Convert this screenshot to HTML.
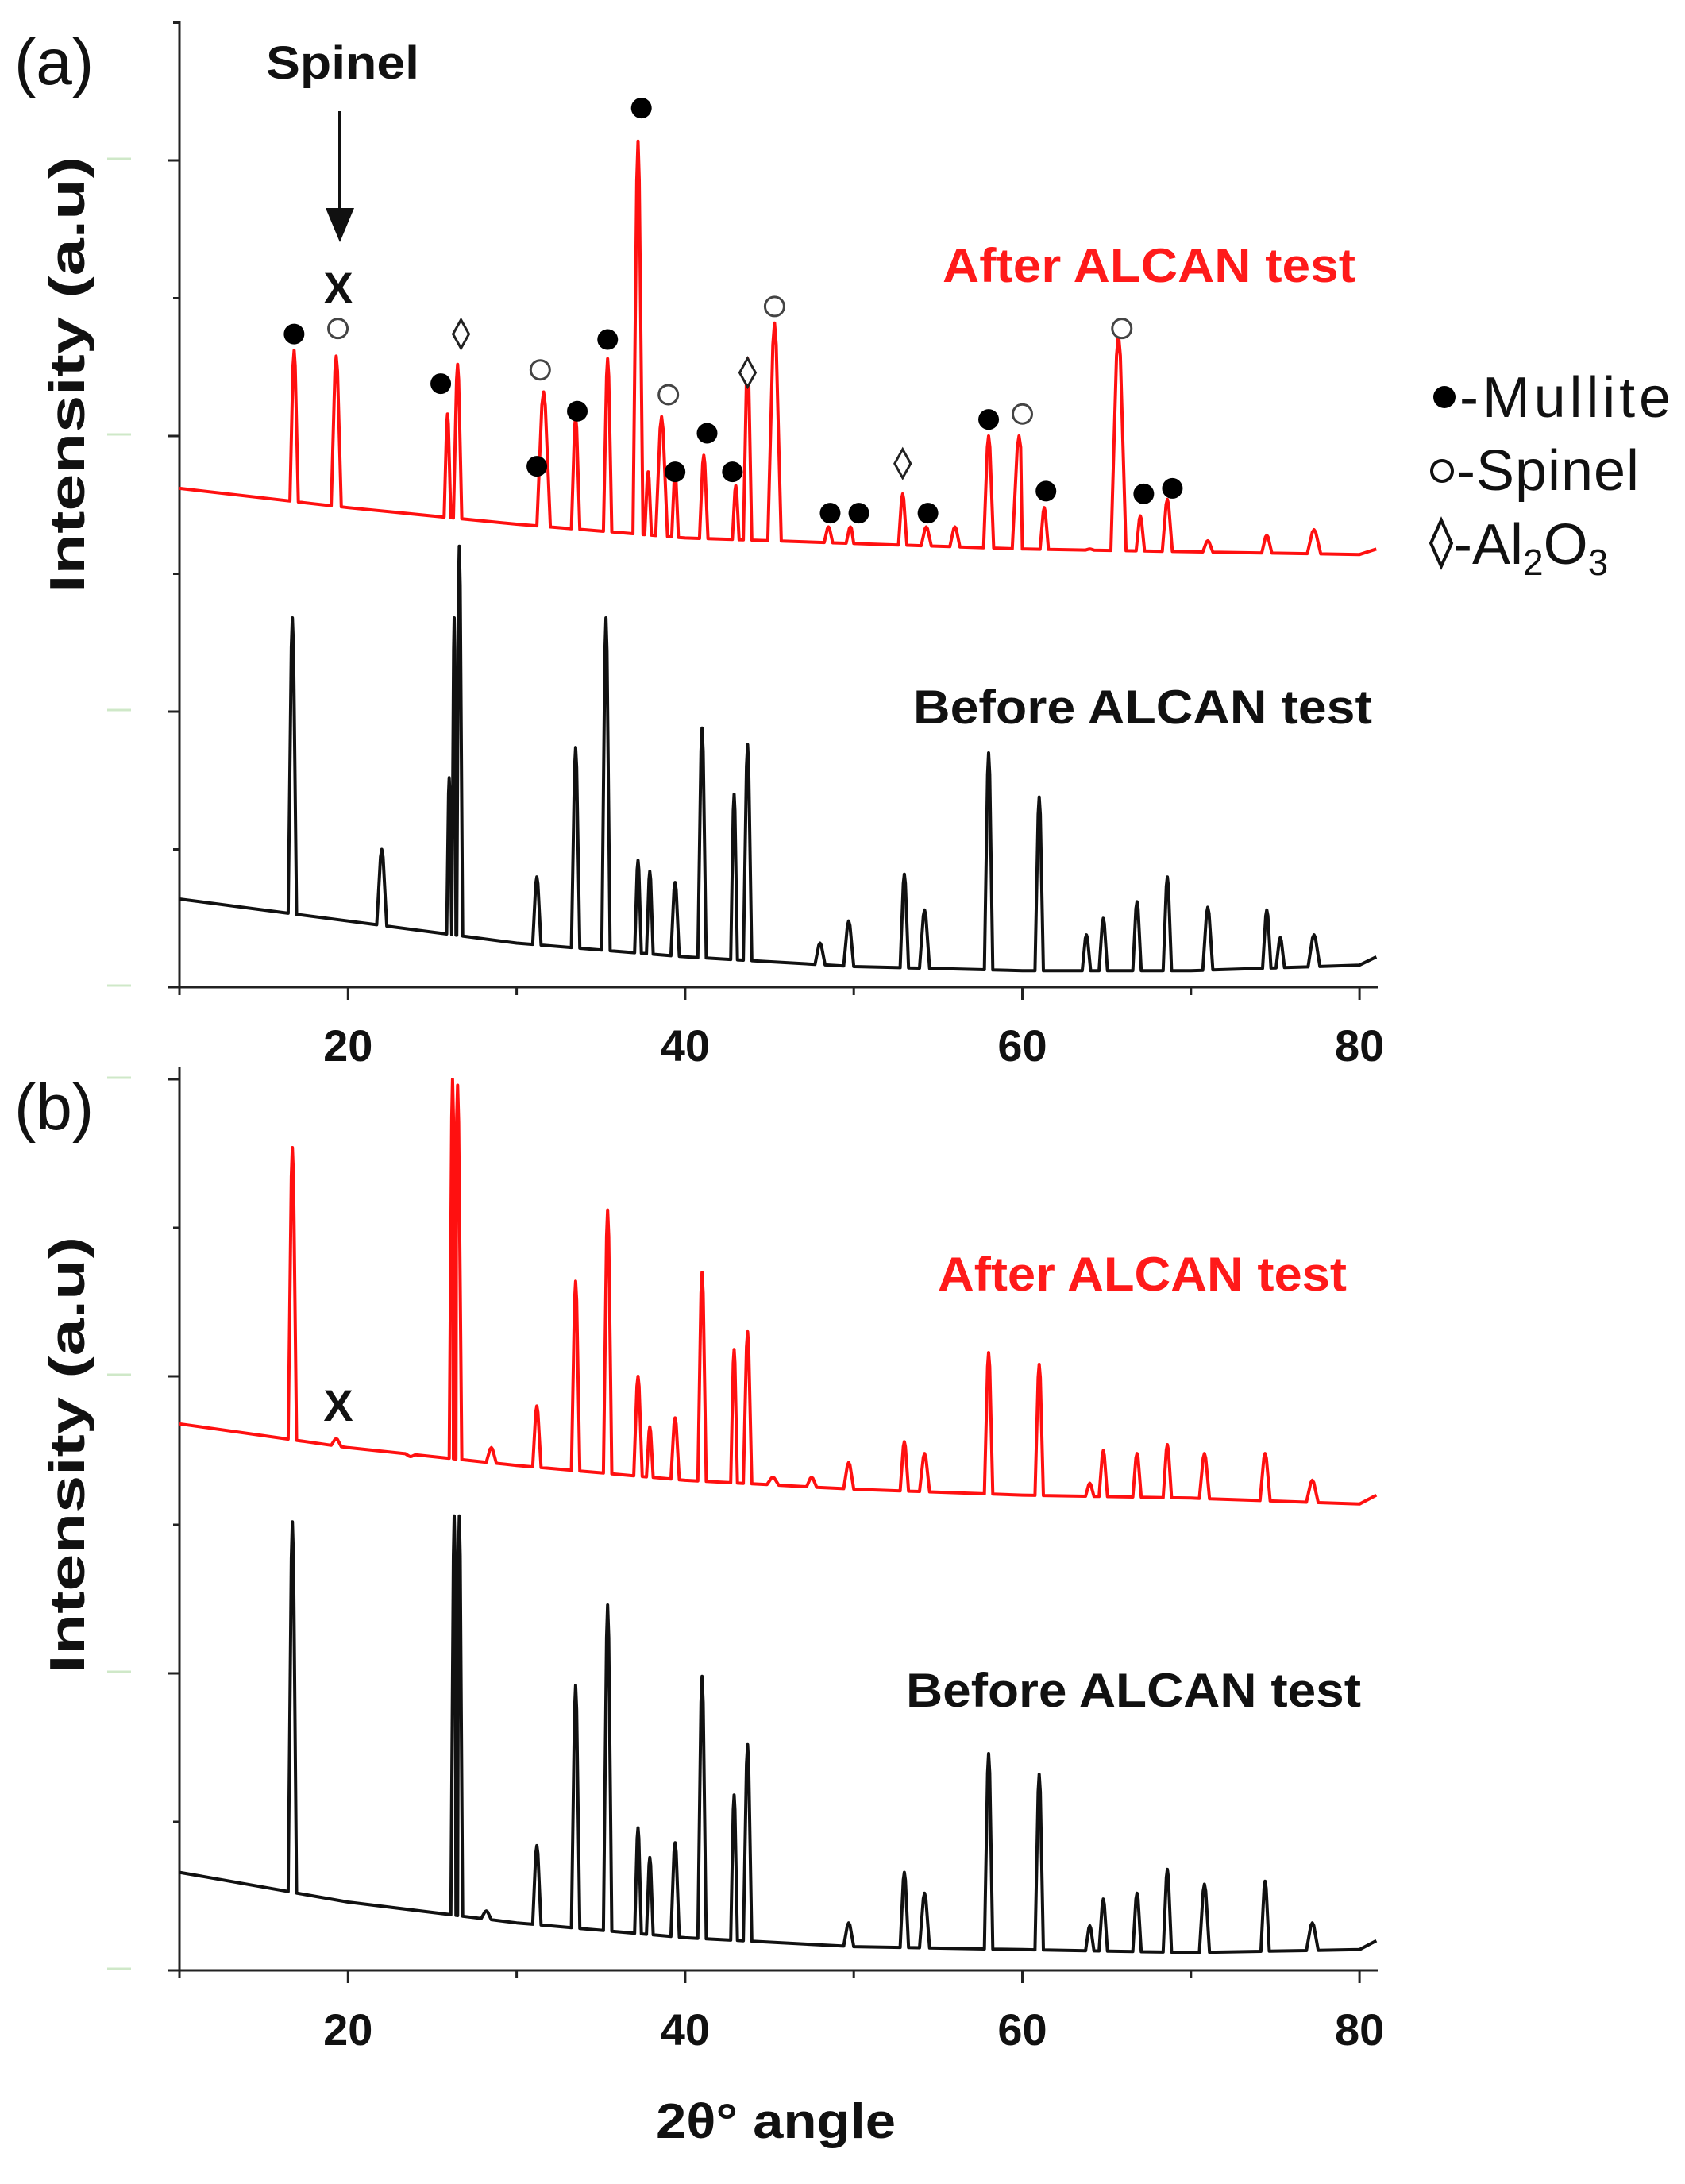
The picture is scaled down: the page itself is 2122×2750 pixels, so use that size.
<!DOCTYPE html>
<html><head><meta charset="utf-8"><style>
html,body{margin:0;padding:0;background:#fff;}
svg{display:block;}
text{font-family:"Liberation Sans",Arial,sans-serif;}
</style></head><body>
<svg id="chart" width="2122" height="2750" viewBox="0 0 2122 2750" xmlns="http://www.w3.org/2000/svg">
<g id="layer"></g>
</svg>
<script>
// ---------- data ----------
const xTicks = [20, 40, 60, 80];
const xMinorTicks = [10, 30, 50, 70];
const yTicksA = [0, 1, 2, 3];
const yTicksB = [0, 1, 2, 3];

const baseRedA = [[10,1.81],[20,1.74],[30,1.68],[40,1.63],[50,1.61],[60,1.59],[70,1.58],[80,1.57],[81,1.59]];
const baseBlackA = [[10,0.32],[20,0.24],[30,0.16],[40,0.11],[50,0.075],[60,0.06],[70,0.06],[80,0.08],[81,0.11]];
const baseRedB = [[10,1.84],[20,1.76],[30,1.70],[40,1.65],[50,1.62],[60,1.60],[70,1.59],[80,1.57],[81,1.60]];
const baseBlackB = [[10,0.33],[20,0.23],[30,0.16],[40,0.11],[50,0.08],[60,0.07],[70,0.06],[80,0.07],[81,0.10]];

const peaksRedA = [[16.8,2.31,0.25],[19.3,2.29,0.3],[25.9,2.08,0.2],[26.5,2.26,0.25],[31.6,2.16,0.4],[33.5,2.07,0.25],[35.4,2.28,0.25],[37.2,3.07,0.3],[37.8,1.87,0.2],[38.6,2.07,0.35],[39.4,1.87,0.2],[41.1,1.93,0.25],[43.0,1.82,0.2],[43.7,2.28,0.25],[45.3,2.41,0.4],[48.5,1.67,0.25],[49.8,1.67,0.25],[52.9,1.79,0.25],[54.3,1.67,0.3],[56.0,1.67,0.3],[58.0,2.0,0.3],[59.8,2.0,0.4],[61.3,1.74,0.25],[64.0,1.59,0.25],[65.7,2.37,0.45],[67.0,1.71,0.25],[68.6,1.77,0.3],[71.0,1.62,0.3],[74.5,1.64,0.3],[77.3,1.66,0.4]];
const peaksBlackA = [[16.7,1.34,0.25],[22.0,0.50,0.3],[26.0,0.76,0.15],[26.3,1.34,0.15],[26.6,1.60,0.2],[31.2,0.40,0.25],[33.5,0.87,0.25],[35.3,1.34,0.25],[37.2,0.46,0.2],[37.9,0.42,0.2],[39.4,0.38,0.25],[41.0,0.94,0.25],[42.9,0.70,0.2],[43.7,0.88,0.25],[48.0,0.16,0.3],[49.7,0.24,0.3],[53.0,0.41,0.25],[54.2,0.28,0.3],[58.0,0.85,0.25],[61.0,0.69,0.25],[63.8,0.19,0.25],[64.8,0.25,0.25],[66.8,0.31,0.25],[68.6,0.40,0.25],[71.0,0.29,0.3],[74.5,0.28,0.25],[75.3,0.18,0.25],[77.3,0.19,0.35]];
const peaksRedB = [[16.7,2.77,0.25],[19.3,1.79,0.3],[23.7,1.73,0.3],[26.2,3.00,0.2],[26.5,2.98,0.25],[28.5,1.76,0.3],[31.2,1.90,0.25],[33.5,2.32,0.25],[35.4,2.56,0.25],[37.2,2.00,0.25],[37.9,1.83,0.2],[39.4,1.86,0.25],[41.0,2.35,0.25],[42.9,2.09,0.2],[43.7,2.15,0.25],[45.2,1.66,0.35],[47.5,1.66,0.3],[49.7,1.71,0.3],[53.0,1.78,0.25],[54.2,1.74,0.3],[58.0,2.08,0.25],[61.0,2.04,0.25],[64.0,1.64,0.25],[64.8,1.75,0.25],[66.8,1.74,0.25],[68.6,1.77,0.25],[70.8,1.74,0.3],[74.4,1.74,0.3],[77.2,1.65,0.35]];
const peaksBlackB = [[16.7,1.51,0.25],[26.3,1.53,0.2],[26.6,1.53,0.2],[28.2,0.20,0.3],[31.2,0.42,0.25],[33.5,0.96,0.25],[35.4,1.23,0.25],[37.2,0.48,0.2],[37.9,0.38,0.2],[39.4,0.43,0.25],[41.0,0.99,0.25],[42.9,0.59,0.2],[43.7,0.76,0.25],[49.7,0.16,0.3],[53.0,0.33,0.25],[54.2,0.26,0.3],[58.0,0.73,0.25],[61.0,0.66,0.25],[64.0,0.15,0.25],[64.8,0.24,0.25],[66.8,0.26,0.25],[68.6,0.34,0.25],[70.8,0.29,0.3],[74.4,0.30,0.25],[77.2,0.16,0.35]];

const mulliteMarks = [[16.8,2.37],[25.5,2.19],[31.2,1.89],[33.6,2.09],[35.4,2.35],[37.4,3.19],[39.4,1.87],[41.3,2.01],[42.8,1.87],[48.6,1.72],[50.3,1.72],[54.4,1.72],[58.0,2.06],[61.4,1.80],[67.2,1.79],[68.9,1.81]];
const spinelMarks = [[19.4,2.39],[31.4,2.24],[39.0,2.15],[45.3,2.47],[60.0,2.08],[65.9,2.39]];
const aluminaMarks = [[26.7,2.37],[43.7,2.23],[52.9,1.90]];

// ---------- axes ----------
const X0 = 226, XS = 21.23;
const xScale = v => X0 + (v - 10) * XS;
const panelA = {y0: 1243, unit: 347, top: 26};
const panelB = {y0: 2481, unit: 374, top: 1344};
const yScale = (p, v) => p.y0 - v * p.unit;

const NS = "http://www.w3.org/2000/svg";
const layer = document.getElementById('layer');
function mk(tag, attrs, parent) {
  const e = document.createElementNS(NS, tag);
  for (const k in attrs) e.setAttribute(k, attrs[k]);
  (parent || layer).appendChild(e);
  return e;
}
function baseAt(base, x) {
  for (let i = 0; i < base.length - 1; i++) {
    if (x >= base[i][0] && x <= base[i+1][0]) {
      const t = (x - base[i][0]) / (base[i+1][0] - base[i][0]);
      return base[i][1] + t * (base[i+1][1] - base[i][1]);
    }
  }
  return base[base.length-1][1];
}
function drawSeries(p, base, peaks, color, name) {
  const pts = [];
  base.forEach(b => pts.push([b[0], b[1]]));
  peaks.forEach(k => {
    const b0 = baseAt(base, k[0] - k[2]), b1 = baseAt(base, k[0] + k[2]);
    pts.push([k[0] - k[2], b0]);
    pts.push([k[0] - k[2] * 0.25, k[1] - (k[1] - b0) * 0.1]);
    pts.push([k[0], k[1]]);
    pts.push([k[0] + k[2] * 0.25, k[1] - (k[1] - b1) * 0.1]);
    pts.push([k[0] + k[2], b1]);
  });
  pts.sort((a, b) => a[0] - b[0]);
  const d = pts.map(q => xScale(q[0]).toFixed(1) + ',' + yScale(p, q[1]).toFixed(1)).join(' ');
  const pl = mk('polyline', {points: d, fill: 'none', stroke: color, 'stroke-width': 4, 'stroke-linejoin': 'round'});
  
  
}
function drawAxes(p, ticks, name, labelY) {
  const g = mk('g', {});
  
  
  mk('line', {x1: X0, y1: p.top, x2: X0, y2: p.y0, stroke: '#222', 'stroke-width': 3}, g);
  mk('line', {x1: X0, y1: p.y0, x2: xScale(81.1), y2: p.y0, stroke: '#222', 'stroke-width': 3}, g);
  ticks.forEach(t => {
    const y = yScale(p, t);
    mk('line', {x1: X0 - 14, y1: y, x2: X0, y2: y, stroke: '#222', 'stroke-width': 3}, g);
    mk('line', {x1: 135, y1: y - 2, x2: 165, y2: y - 2, stroke: '#cfe8c8', 'stroke-width': 3}, g);
    const ym = yScale(p, t + 0.5);
    if (ym > p.top) mk('line', {x1: X0 - 8, y1: ym, x2: X0, y2: ym, stroke: '#222', 'stroke-width': 3}, g);
  });
  xTicks.forEach(t => {
    mk('line', {x1: xScale(t), y1: p.y0, x2: xScale(t), y2: p.y0 + 16, stroke: '#222', 'stroke-width': 3}, g);
    const tx = mk('text', {x: xScale(t), y: labelY, 'font-size': 56, 'font-weight': 'bold', 'text-anchor': 'middle', fill: '#111'}, g);
    tx.textContent = t;
    
    
  });
  xMinorTicks.forEach(t => {
    mk('line', {x1: xScale(t), y1: p.y0, x2: xScale(t), y2: p.y0 + 10, stroke: '#222', 'stroke-width': 3}, g);
  });
}
function txt(x, y, s, size, opts, name) {
  const a = Object.assign({x: x, y: y, 'font-size': size, fill: '#111'}, opts || {});
  const t = mk('text', a);
  t.textContent = s;
  
  
  return t;
}

drawAxes(panelA, yTicksA, 'panel-a-axes', 1336);
drawAxes(panelB, yTicksB, 'panel-b-axes', 2575);

drawSeries(panelA, baseRedA, peaksRedA, '#ff1010', 'panel-a-after-series');
drawSeries(panelA, baseBlackA, peaksBlackA, '#111', 'panel-a-before-series');
drawSeries(panelB, baseRedB, peaksRedB, '#ff1010', 'panel-b-after-series');
drawSeries(panelB, baseBlackB, peaksBlackB, '#111', 'panel-b-before-series');

mulliteMarks.forEach(m => {
  const c = mk('circle', {cx: xScale(m[0]), cy: yScale(panelA, m[1]), r: 13, fill: '#000'});
  
  
});
spinelMarks.forEach(m => {
  const c = mk('circle', {cx: xScale(m[0]), cy: yScale(panelA, m[1]), r: 12, fill: '#fff', stroke: '#444', 'stroke-width': 3});
  
  
});
aluminaMarks.forEach(m => {
  const x = xScale(m[0]), y = yScale(panelA, m[1]);
  const c = mk('polygon', {points: `${x},${y-18} ${x+10},${y} ${x},${y+18} ${x-10},${y}`, fill: '#fff', stroke: '#222', 'stroke-width': 3});
  
  
});

const stretch = {'font-weight': 'bold', lengthAdjust: 'spacingAndGlyphs'};
txt(18, 106, '(a)', 82, {}, 'panel-a-label');
txt(18, 1422, '(b)', 82, {}, 'panel-b-label');
txt(335, 99, 'Spinel', 58, Object.assign({textLength: 193}, stretch), 'spinel-annotation');
const ar = mk('line', {x1: 428, y1: 140, x2: 428, y2: 270, stroke: '#111', 'stroke-width': 4});


const ah = mk('polygon', {points: '410,262 446,262 428,305', fill: '#111'});


txt(426, 382, 'X', 56, {'font-weight': 'bold', 'text-anchor': 'middle'}, 'x-mark-a');
txt(426, 1789, 'X', 56, {'font-weight': 'bold', 'text-anchor': 'middle'}, 'x-mark-b');

txt(1187, 355, 'After ALCAN test', 60, Object.assign({fill: '#ff1a1a', textLength: 520}, stretch), 'panel-a-after-label');
txt(1150, 911, 'Before ALCAN test', 60, Object.assign({textLength: 578}, stretch), 'panel-a-before-label');
txt(1181, 1625, 'After ALCAN test', 60, Object.assign({fill: '#ff1a1a', textLength: 515}, stretch), 'panel-b-after-label');
txt(1141, 2149, 'Before ALCAN test', 60, Object.assign({textLength: 573}, stretch), 'panel-b-before-label');

txt(0, 0, 'Intensity (a.u)', 62, Object.assign({'text-anchor': 'middle', textLength: 550, transform: 'translate(106,472) rotate(-90)'}, stretch), 'panel-a-y-axis-title');
txt(0, 0, 'Intensity (a.u)', 62, Object.assign({'text-anchor': 'middle', textLength: 550, transform: 'translate(106,1832) rotate(-90)'}, stretch), 'panel-b-y-axis-title');
txt(977, 2692, '2θ° angle', 62, Object.assign({'text-anchor': 'middle', textLength: 302}, stretch), 'x-axis-title');

const lg = mk('g', {});


mk('circle', {cx: 1819, cy: 500, r: 14, fill: '#000'}, lg);
txt(1838, 525, '-Mullite', 72, {textLength: 266}, 'legend-mullite');
mk('circle', {cx: 1816, cy: 593, r: 13, fill: 'none', stroke: '#111', 'stroke-width': 4}, lg);
txt(1834, 617, '-Spinel', 72, {textLength: 230}, 'legend-spinel');
mk('polygon', {points: '1815,655 1828,684 1815,713 1802,684', fill: 'none', stroke: '#111', 'stroke-width': 4}, lg);
const al = txt(1830, 710, '-Al', 72, {}, 'legend-alumina');
const s1 = document.createElementNS(NS, 'tspan'); s1.setAttribute('font-size', 46); s1.setAttribute('dy', 14); s1.textContent = '2'; al.appendChild(s1);
const s2 = document.createElementNS(NS, 'tspan'); s2.setAttribute('dy', -14); s2.textContent = 'O'; al.appendChild(s2);
const s3 = document.createElementNS(NS, 'tspan'); s3.setAttribute('font-size', 46); s3.setAttribute('dy', 14); s3.textContent = '3'; al.appendChild(s3);
</script>
</body></html>
